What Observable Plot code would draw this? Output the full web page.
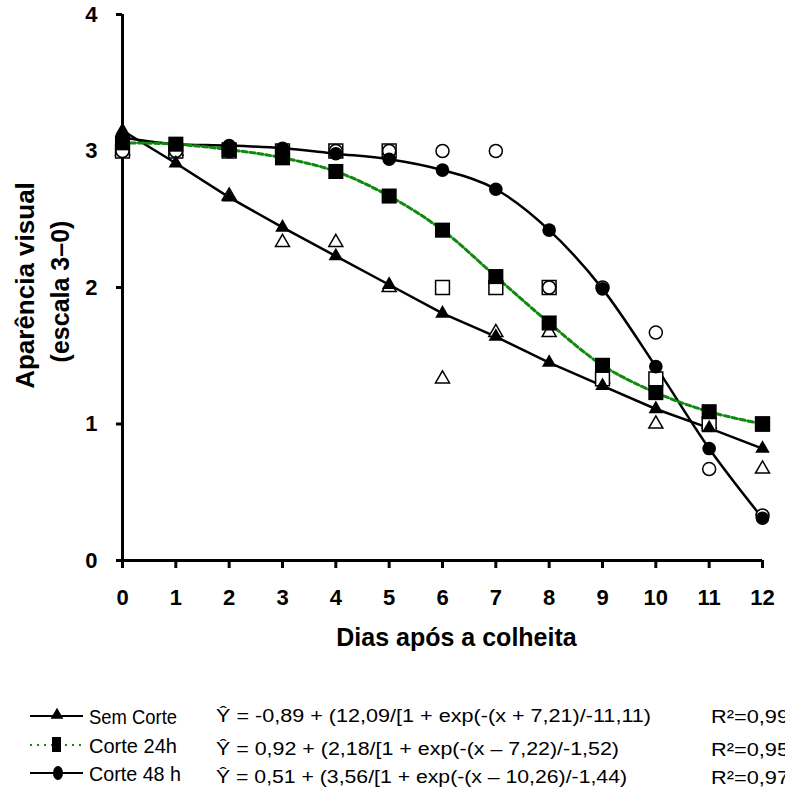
<!DOCTYPE html>
<html>
<head>
<meta charset="utf-8">
<script src="https://cdn.jsdelivr.net/npm/d3@7"></script>
<script src="https://cdn.jsdelivr.net/npm/@observablehq/plot@0.6"></script>
<style>
  body { margin: 0; background: #fff; }
  #wrap { position: relative; width: 785px; height: 811px; overflow: hidden; }
  #legend { position: absolute; left: 0; top: 660px; }
</style>
</head>
<body>
<div id="wrap"><div id="chart"></div><svg id="legend" width="785" height="151"></svg></div>
<script>
const days = [0, 1, 2, 3, 4, 5, 6, 7, 8, 9, 10, 11, 12];
const yTicks = [0, 1, 2, 3, 4];
const seriesNames = ["Sem Corte", "Corte 24h", "Corte 48 h"];
// fitted values (filled markers)
const semCorteFit = [3.15, 2.91, 2.66, 2.44, 2.23, 2.02, 1.81, 1.64, 1.45, 1.28, 1.11, 0.97, 0.82];
const corte24Fit  = [3.06, 3.05, 3.01, 2.95, 2.85, 2.67, 2.42, 2.08, 1.74, 1.43, 1.23, 1.09, 1.00];
const corte48Fit  = [3.10, 3.05, 3.04, 3.02, 2.98, 2.94, 2.86, 2.72, 2.42, 1.99, 1.42, 0.82, 0.31];
// observed values (open markers)
const semCorteObs = [3, 3, 2.67, 2.33, 2.33, 2, 1.33, 1.67, 1.67, 1.33, 1, 1, 0.67];
const corte24Obs  = [3, 3, 3, 3, 3, 3, 2, 2, 2, 1.33, 1.33, 1, 1];
const corte48Obs  = [3, 3, 3, 3, 3, 3, 3, 3, 2, 2, 1.67, 0.67, 0.33];
const equations = [
  "Ŷ = -0,89 + (12,09/[1 + exp(-(x + 7,21)/-11,11)",
  "Ŷ = 0,92 + (2,18/[1 + exp(-(x – 7,22)/-1,52)",
  "Ŷ = 0,51 + (3,56/[1 + exp(-(x – 10,26)/-1,44)"
];
const r2 = ["R²=0,99", "R²=0,95", "R²=0,97"];
const xLabel = "Dias após a colheita";
const yLabel1 = "Aparência visual";
const yLabel2 = "(escala 3–0)";

const rows = (vals) => days.map((d, i) => ({x: d, y: vals[i]}));
const green = "#0f8a0f";
const font = "'Liberation Sans', Arial, Helvetica, sans-serif";

const chart = Plot.plot({
  width: 785,
  height: 660,
  marginLeft: 122,
  marginRight: 23,
  marginTop: 14,
  marginBottom: 100,
  x: {domain: [0, 12]},
  y: {domain: [0, 4]},
  style: {fontFamily: font, color: "black", background: "white", overflow: "visible"},
  marks: [
    Plot.axisX(days, {tickSize: 8, tickPadding: 21, strokeWidth: 3, fontSize: 22, fontWeight: "bold", label: null, tickFormat: d => String(d)}),
    Plot.axisY(yTicks, {tickSize: 6, tickPadding: 19, strokeWidth: 3, fontSize: 22, fontWeight: "bold", label: null, tickFormat: d => String(d)}),
    Plot.ruleY([0], {strokeWidth: 3}),
    Plot.ruleX([0], {strokeWidth: 3}),
    Plot.line(rows(semCorteFit), {x: "x", y: "y", stroke: "black", strokeWidth: 2.5, curve: "linear"}),
    Plot.line(rows(corte48Fit), {x: "x", y: "y", stroke: "black", strokeWidth: 2.5, curve: "monotone-x"}),
    Plot.line(rows(corte24Fit), {x: "x", y: "y", stroke: green, strokeWidth: 3, strokeDasharray: "5,3", curve: "catmull-rom"}),
    Plot.dot(rows(semCorteObs), {x: "x", y: "y", symbol: "triangle", r: 5.2, fill: "white", stroke: "black", strokeWidth: 1.5}),
    Plot.dot(rows(corte24Obs), {x: "x", y: "y", symbol: "square", r: 7.8, fill: "white", stroke: "black", strokeWidth: 1.5}),
    Plot.dot(rows(corte48Obs), {x: "x", y: "y", symbol: "circle", r: 6.5, fill: "white", stroke: "black", strokeWidth: 1.5}),
    Plot.dot(rows(corte24Fit), {x: "x", y: "y", symbol: "square", r: 8.5, fill: "black", stroke: "none"}),
    Plot.dot(rows(corte48Fit), {x: "x", y: "y", symbol: "circle", r: 6.8, fill: "black", stroke: "none"}),
    Plot.dot(rows(semCorteFit), {x: "x", y: "y", symbol: "triangle", r: 5.4, fill: "black", stroke: "none"}),
    Plot.text([xLabel], {frameAnchor: "bottom", textAnchor: "middle", dx: 14, dy: 77, lineAnchor: "middle", fontSize: 25, fontWeight: "bold", text: d => d}),
    Plot.text([yLabel1], {frameAnchor: "left", textAnchor: "middle", dx: -97, dy: -2, rotate: -90, lineAnchor: "middle", fontSize: 26, fontWeight: "bold", text: d => d}),
    Plot.text([yLabel2], {frameAnchor: "left", textAnchor: "middle", dx: -62, dy: 4, rotate: -90, lineAnchor: "middle", fontSize: 25, fontWeight: "bold", text: d => d})
  ]
});
document.getElementById("chart").appendChild(chart);

// Legend
const lg = d3.select("#legend").style("font-family", font);
const rowY = [56, 85, 113];
const eqY = [56, 89, 117];
const labelWidths = [88, 88, 92];
const eqWidths = [435, 403, 411];
// Sem Corte
lg.append("line").attr("x1", 30).attr("x2", 83).attr("y1", rowY[0]).attr("y2", rowY[0]).attr("stroke", "black").attr("stroke-width", 2);
lg.append("path").attr("d", d3.symbol(d3.symbolTriangle, 70)()).attr("transform", `translate(57,${rowY[0] - 1})`).attr("fill", "black");
// Corte 24h
lg.append("line").attr("x1", 30).attr("x2", 85).attr("y1", rowY[1]).attr("y2", rowY[1]).attr("stroke", green).attr("stroke-width", 2).attr("stroke-dasharray", "2,5");
lg.append("rect").attr("x", 52).attr("y", rowY[1] - 8).attr("width", 9).attr("height", 15).attr("fill", "black");
// Corte 48 h
lg.append("line").attr("x1", 30).attr("x2", 83).attr("y1", rowY[2]).attr("y2", rowY[2]).attr("stroke", "black").attr("stroke-width", 2);
lg.append("ellipse").attr("cx", 58).attr("cy", rowY[2]).attr("rx", 5).attr("ry", 7).attr("fill", "black");

seriesNames.forEach((name, i) => {
  lg.append("text").attr("x", 89).attr("y", rowY[i]).attr("dy", "0.36em")
    .attr("font-size", 21).attr("textLength", labelWidths[i]).attr("lengthAdjust", "spacingAndGlyphs")
    .text(name);
  lg.append("text").attr("x", 216).attr("y", eqY[i]).attr("dy", "0.36em")
    .attr("font-size", 18).attr("textLength", eqWidths[i]).attr("lengthAdjust", "spacingAndGlyphs")
    .text(equations[i]);
  lg.append("text").attr("x", 711).attr("y", eqY[i]).attr("dy", "0.36em")
    .attr("font-size", 19).attr("textLength", 78).attr("lengthAdjust", "spacingAndGlyphs")
    .text(r2[i]);
});
</script>
</body>
</html>
